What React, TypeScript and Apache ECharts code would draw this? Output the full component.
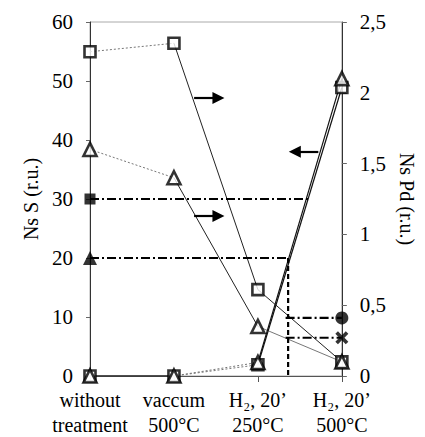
import React, { useEffect, useRef } from "react";
import * as echarts from "echarts";

// ---- data ----
const categories = ["without\ntreatment", "vaccum\n500°C", "H\u2082, 20\u2019\n250°C", "H\u2082, 20\u2019\n500°C"];
// Pd (right axis)
const pdSquare = [2.29, 2.35, 0.61, 0.1];
const pdTriangle = [1.6, 1.4, 0.35, 0.1];
// S (left axis)
const sSquare = [0, 0, 1.9, 48.9];
const sTriangle = [0, 0, 2.3, 50.4];
// reference levels
const refSquareS = { value: 30, end: 2.62 };
const refTriangleS = { value: 20, end: 2.36 };
const refCirclePd = { value: 0.41, start: 2.33 };
const refCrossPd = { value: 0.27, start: 2.33 };
// arrows (data coordinates: x in category units, y in left-axis units)
const arrows = [
  { from: [1.24, 47.1], to: [1.53, 47.1] },
  { from: [1.24, 27.1], to: [1.53, 27.1] },
  { from: [2.72, 38.0], to: [2.44, 38.0] },
];
const leftAxis = { min: 0, max: 60, interval: 10 };
const rightAxis = { min: 0, max: 2.5, interval: 0.5 };

const FONT = "'Liberation Serif', serif";

function seg(arr: number[], from: number, to: number) {
  return arr.map((v, i) => (i >= from && i <= to ? v : null));
}

const CROSS = "path://M0,2 L2,0 L5,3 L8,0 L10,2 L7,5 L10,8 L8,10 L5,7 L2,10 L0,8 L3,5 Z";

export default function App() {
  const ref = useRef<HTMLDivElement>(null);
  useEffect(() => {
    if (!ref.current) return;
    const chart = echarts.init(ref.current, undefined, { renderer: "svg" });
    const lineSeries = (data: any[], yIdx: number, style: any, z = 2) => ({
      type: "line",
      data,
      yAxisIndex: yIdx,
      xAxisIndex: 0,
      symbol: "none",
      connectNulls: false,
      lineStyle: style,
      z,
      silent: true,
    });
    const markerSeries = (data: number[], yIdx: number, symbol: string, size: number) => ({
      type: "scatter",
      data,
      yAxisIndex: yIdx,
      xAxisIndex: 0,
      symbol,
      symbolSize: size,
      itemStyle: { color: "#fff", borderColor: "#000", borderWidth: 2.6 },
      z: 5,
      silent: true,
    });
    const dotted = { type: [2, 2], color: "#777", width: 1 };
    const thin = { type: "solid", color: "#222", width: 1 };
    const dashDot = { type: [9, 3, 2, 3], color: "#000", width: 2.2 };
    const dashed = { type: [5, 3], color: "#000", width: 2.2 };
    const txt = { color: "#000", fontSize: 20, fontFamily: FONT };

    chart.setOption({
      animation: false,
      textStyle: { fontFamily: FONT },
      grid: { left: 90, right: 75, top: 22, bottom: 57, show: true, borderColor: "#aaa", borderWidth: 1, backgroundColor: "transparent" },
      xAxis: [
        {
          type: "category",
          data: categories,
          boundaryGap: false,
          axisLine: { lineStyle: { color: "#555", width: 1 } },
          axisTick: { show: true, length: 6, lineStyle: { color: "#555" } },
          axisLabel: { ...txt, lineHeight: 25, margin: 11, interval: 0 },
          splitLine: { show: false },
        },
        { type: "value", min: 0, max: 3, show: false },
      ],
      yAxis: [
        {
          type: "value",
          ...leftAxis,
          name: "Ns S (r.u.)",
          nameLocation: "middle",
          nameRotate: 90,
          nameGap: 49,
          nameTextStyle: txt,
          axisLine: { show: true, lineStyle: { color: "#333", width: 1 } },
          axisTick: { show: true, length: 4, lineStyle: { color: "#666" } },
          axisLabel: { ...txt, fontSize: 21, margin: 17 },
          splitLine: { show: false },
        },
        {
          type: "value",
          ...rightAxis,
          position: "right",
          name: "Ns Pd (r.u.)",
          nameLocation: "middle",
          nameRotate: -90,
          nameGap: 48,
          nameTextStyle: txt,
          axisLine: { show: true, lineStyle: { color: "#333", width: 1 } },
          axisTick: { show: true, length: 5, lineStyle: { color: "#666" } },
          axisLabel: {
            ...txt,
            fontSize: 21,
            margin: 18,
            formatter: (v: number) => String(v).replace(".", ","),
          },
          splitLine: { show: false },
        },
      ],
      series: [
        // Pd squares
        lineSeries(seg(pdSquare, 0, 1), 1, dotted),
        lineSeries(seg(pdSquare, 1, 3), 1, thin),
        // Pd triangles
        lineSeries(seg(pdTriangle, 0, 1), 1, dotted),
        lineSeries(seg(pdTriangle, 1, 2), 1, thin),
        lineSeries(seg(pdTriangle, 2, 3), 1, { type: "solid", color: "#777", width: 1 }),
        // S squares
        lineSeries(seg(sSquare, 0, 1), 0, thin),
        lineSeries(seg(sSquare, 1, 2), 0, dotted),
        lineSeries(seg(sSquare, 2, 3), 0, { type: "solid", color: "#111", width: 1.2 }),
        // S triangles
        lineSeries(seg(sTriangle, 0, 1), 0, thin),
        lineSeries(seg(sTriangle, 1, 2), 0, dotted),
        lineSeries(seg(sTriangle, 2, 3), 0, { type: "solid", color: "#111", width: 1.2 }),
        // reference lines
        {
          type: "line",
          xAxisIndex: 1,
          yAxisIndex: 0,
          data: [[0, refSquareS.value], [refSquareS.end, refSquareS.value]],
          symbol: "none",
          lineStyle: dashDot,
          z: 3,
          silent: true,
        },
        {
          type: "line",
          xAxisIndex: 1,
          yAxisIndex: 0,
          data: [[0, refTriangleS.value], [refTriangleS.end, refTriangleS.value]],
          symbol: "none",
          lineStyle: dashDot,
          z: 3,
          silent: true,
        },
        {
          type: "line",
          xAxisIndex: 1,
          yAxisIndex: 0,
          data: [[refTriangleS.end, refTriangleS.value], [refTriangleS.end, 0]],
          symbol: "none",
          lineStyle: dashed,
          z: 3,
          silent: true,
        },
        {
          type: "line",
          xAxisIndex: 1,
          yAxisIndex: 1,
          data: [[refCirclePd.start, refCirclePd.value], [3, refCirclePd.value]],
          symbol: "none",
          lineStyle: dashDot,
          z: 3,
          silent: true,
        },
        {
          type: "line",
          xAxisIndex: 1,
          yAxisIndex: 1,
          data: [[refCrossPd.start, refCrossPd.value], [3, refCrossPd.value]],
          symbol: "none",
          lineStyle: dashDot,
          z: 3,
          silent: true,
        },
        // filled reference markers
        {
          type: "scatter",
          xAxisIndex: 1,
          yAxisIndex: 0,
          data: [[0, refSquareS.value]],
          symbol: "rect",
          symbolSize: 11,
          itemStyle: { color: "#000" },
          z: 6,
          silent: true,
        },
        {
          type: "scatter",
          xAxisIndex: 1,
          yAxisIndex: 0,
          data: [[0, refTriangleS.value]],
          symbol: "triangle",
          symbolSize: 14,
          itemStyle: { color: "#000" },
          z: 6,
          silent: true,
        },
        {
          type: "scatter",
          xAxisIndex: 1,
          yAxisIndex: 1,
          data: [[3, refCirclePd.value]],
          symbol: "circle",
          symbolSize: 13,
          itemStyle: { color: "#000" },
          z: 6,
          silent: true,
        },
        {
          type: "scatter",
          xAxisIndex: 1,
          yAxisIndex: 1,
          data: [[3, refCrossPd.value]],
          symbol: CROSS,
          symbolSize: 13,
          itemStyle: { color: "#000" },
          z: 6,
          silent: true,
        },
        // open markers
        markerSeries(pdSquare, 1, "rect", 11),
        markerSeries(pdTriangle, 1, "triangle", 13),
        markerSeries(sSquare, 0, "rect", 11),
        markerSeries(sTriangle, 0, "triangle", 13),
        // arrows
        {
          type: "line",
          xAxisIndex: 1,
          yAxisIndex: 0,
          data: [],
          symbol: "none",
          silent: true,
          markLine: {
            silent: true,
            symbol: ["none", "triangle"],
            symbolSize: [12, 12],
            label: { show: false },
            lineStyle: { type: "solid", color: "#000", width: 2.2 },
            data: arrows.map((a) => [{ coord: a.from }, { coord: a.to }]),
          },
        },
      ],
    });
    return () => chart.dispose();
  }, []);
  return (
    <div
      ref={ref}
      style={{ position: "absolute", left: 0, top: 0, width: 425, height: 437, overflow: "hidden", background: "#fff" }}
    />
  );
}
